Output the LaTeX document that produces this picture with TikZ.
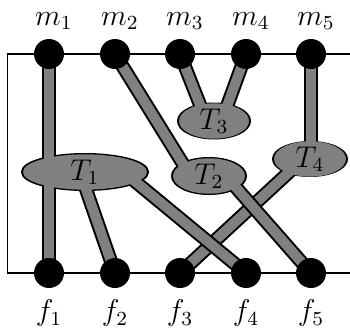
\documentclass[tikz,border=0pt]{standalone}
\usepackage{amsmath,amssymb}
\usepackage{xcolor}
\usepackage{tikz}
\usetikzlibrary{positioning,shapes.geometric}

\tikzset{
  dot/.style={circle, fill=black, minimum size=12pt, inner sep=0pt},
  blobline/.style={ellipse, draw=black, line width=1.6pt, inner sep=0pt},
  blobfill/.style={ellipse, fill=gray, inner sep=0pt, font=\large},
  bandout/.style={line width=5.6pt, draw=black},
  bandin/.style={line width=4pt, draw=gray},
  frame/.style={line width=0.7pt},
  lab/.style={font=\large},
}

\begin{document}
\begin{tikzpicture}[x=0.4pt,y=0.4pt]
  \useasboundingbox (0,0) rectangle (350,327);
  \coordinate (m1) at (49,273);
  \coordinate (m2) at (115,273);
  \coordinate (m3) at (180,273);
  \coordinate (m4) at (246,273);
  \coordinate (m5) at (311,273);
  \coordinate (f1) at (49,54);
  \coordinate (f2) at (115,54);
  \coordinate (f3) at (180,54);
  \coordinate (f4) at (246,54);
  \coordinate (f5) at (311,54);

  \draw[frame] (350,273) -- (7.5,273) -- (7.5,54) -- (350,54);

  % outlines of the T blobs
  \node[blobline, minimum width=49.6pt, minimum height=13.6pt] (T1) at (85,155) {};
  \node[blobline, minimum width=28.8pt, minimum height=13.6pt] (T2) at (209,151) {};
  \node[blobline, minimum width=28pt, minimum height=13.2pt] (T3) at (214,206) {};
  \node[blobline, minimum width=28.8pt, minimum height=12.8pt] (T4) at (310,168) {};

  % band ends inside the blobs
  \coordinate (t2a) at (188,155);
  \coordinate (t3a) at (206,207);
  \coordinate (t3b) at (222,207);
  \coordinate (t4a) at (311,168);
  \coordinate (t1a) at (80,155);
  \coordinate (t1b) at (120,158);
  \coordinate (t2b) at (225,152);
  \coordinate (t4b) at (300,165);

  \draw[bandout] (m1) -- (f1);   \draw[bandin] (m1) -- (f1);
  \draw[bandout] (m2) -- (t2a);  \draw[bandin] (m2) -- (t2a);
  \draw[bandout] (m3) -- (t3a);  \draw[bandin] (m3) -- (t3a);
  \draw[bandout] (m4) -- (t3b);  \draw[bandin] (m4) -- (t3b);
  \draw[bandout] (m5) -- (t4a);  \draw[bandin] (m5) -- (t4a);
  \draw[bandout] (t1a) -- (f2);  \draw[bandin] (t1a) -- (f2);
  \draw[bandout] (t4b) -- (f3);  \draw[bandin] (t4b) -- (f3);
  \draw[bandout] (t1b) -- (f4);  \draw[bandin] (t1b) -- (f4);
  \draw[bandout] (t2b) -- (f5);  \draw[bandin] (t2b) -- (f5);

  % blob fills with their names
  \node[blobfill, minimum width=49.6pt, minimum height=13.6pt] (T1f) at (T1) {$T_1$};
  \node[blobfill, minimum width=28.8pt, minimum height=13.6pt] (T2f) at (T2) {$T_2$};
  \node[blobfill, minimum width=28pt, minimum height=13.2pt] (T3f) at (T3) {$T_3$};
  \node[blobfill, minimum width=28.8pt, minimum height=12.8pt] (T4f) at (T4) {$T_4$};

  % dots and their labels
  \node[dot] (dm1) at (m1) {};
  \node[dot] (dm2) at (m2) {};
  \node[dot] (dm3) at (m3) {};
  \node[dot] (dm4) at (m4) {};
  \node[dot] (dm5) at (m5) {};
  \node[dot] (df1) at (f1) {};
  \node[dot] (df2) at (f2) {};
  \node[dot] (df3) at (f3) {};
  \node[dot] (df4) at (f4) {};
  \node[dot] (df5) at (f5) {};

  \node[lab, above=0pt of dm1, xshift=2pt] (lm1) {$m_1$};
  \node[lab, above=0pt of dm2, xshift=2pt] (lm2) {$m_2$};
  \node[lab, above=0pt of dm3, xshift=2pt] (lm3) {$m_3$};
  \node[lab, above=0pt of dm4, xshift=2pt] (lm4) {$m_4$};
  \node[lab, above=0pt of dm5, xshift=2pt] (lm5) {$m_5$};
  \node[lab, below=1pt of df1] (lf1) {$f_1$};
  \node[lab, below=1pt of df2] (lf2) {$f_2$};
  \node[lab, below=1pt of df3] (lf3) {$f_3$};
  \node[lab, below=1pt of df4] (lf4) {$f_4$};
  \node[lab, below=1pt of df5] (lf5) {$f_5$};
\end{tikzpicture}
\end{document}
